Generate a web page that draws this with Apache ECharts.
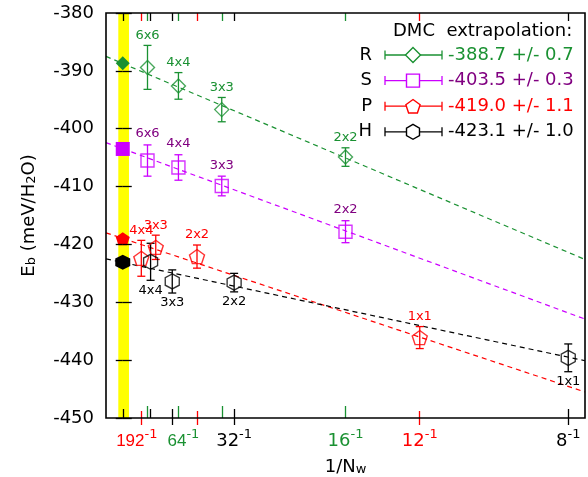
<!DOCTYPE html>
<html>
<head>
<meta charset="utf-8">
<script src="https://cdn.jsdelivr.net/npm/echarts@6/dist/echarts.min.js"></script>
<style>
  html, body { margin: 0; padding: 0; background: #fff; }
  #chart { width: 588px; height: 477px; }
</style>
</head>
<body>
<div id="chart"></div>
<script>
/* DMC binding energy vs 1/N_w with linear extrapolation to the thermodynamic limit */
const FONT = 'DejaVu Sans, Liberation Sans, sans-serif';
const NARROW = 'Liberation Sans Narrow, Liberation Sans, sans-serif';
const GREEN = '#1a9132', VIOLET = '#cc00ff', PURPLE = '#800080', RED = '#ff0000', BLACK = '#000000';

const X_MIN = -0.0047, X_MAX = 0.1297;

// R and S are computed on the same cells
const xRS = [1 / 144, 1 / 64, 1 / 36, 1 / 16];
const labRS = ['6x6', '4x4', '3x3', '2x2'];
const yR = [-389.4, -392.6, -396.7, -404.9];
const eR = [3.8, 2.3, 2.1, 1.6];
const yS = [-405.5, -406.7, -409.9, -417.8];
const eS = [2.7, 2.2, 1.7, 1.9];

const xP = [1 / 192, 1 / 108, 1 / 48, 1 / 12];
const yP = [-422.4, -420.5, -422.1, -436.1];
const eP = [3.1, 2.1, 2.0, 1.9];
const labP = ['4x4', '3x3', '2x2', '1x1'];

const xH = [1 / 128, 1 / 72, 1 / 32, 1 / 8];
const yH = [-423.0, -426.4, -426.6, -439.6];
const eH = [3.2, 2.0, 1.6, 2.4];
const labH = ['4x4', '3x3', '2x2', '1x1'];

// extrapolated values (1/N_w -> 0)
const extrapNames = ['R', 'S', 'P', 'H'];
const extrapVals = [-388.7, -403.5, -419.0, -423.1];
const extrapErrs = [0.7, 0.3, 1.1, 1.0];

// fit lines, end points across the plot
const fitR = [[X_MIN, -387.5], [X_MAX, -422.6]];
const fitS = [[X_MIN, -402.4], [X_MAX, -432.9]];
const fitP = [[X_MIN, -418.0], [X_MAX, -445.5]];
const fitH = [[X_MIN, -422.5], [X_MAX, -440.1]];

const bandX = [-0.00125, 0.00175];

// ticks by colour, and labelled ticks
const ticksGreen = [1 / 144, 1 / 64, 1 / 36, 1 / 16];
const ticksBlack = [0, 1 / 128, 1 / 72, 1 / 32, 1 / 8];
const ticksBlackOut = [1 / 72, 1 / 32, 1 / 8];
const ticksRed = [1 / 192, 1 / 48, 1 / 12];
const labelVals = [1 / 192, 1 / 64, 1 / 32, 1 / 16, 1 / 12, 1 / 8];
const labelBase = ['192', '64', '32', '16', '12', '8'];
const labelKey = ['r', 'g', 'k', 'g', 'r', 'k'];
const labelNarrow = [true, true, false, false, false, false];
const labelPad = [[0, 9, 0, 0], [0, 0, 0, 10], 0, 0, 0, 0];

const PENTAGON = 'path://M50,0 L97.55,34.55 L79.39,90.45 L20.61,90.45 L2.45,34.55 Z';
const HEXAGON = 'path://M50,0 L93.3,25 L93.3,75 L50,100 L6.7,75 L6.7,25 Z';

const chart = echarts.init(document.getElementById('chart'), null, { renderer: 'canvas' });

function tickAxis(pos, vals, color, len, inside) {
  return {
    type: 'value', position: pos, min: X_MIN, max: X_MAX, z: 6,
    axisLine: { show: false }, splitLine: { show: false }, axisLabel: { show: false },
    axisTick: { show: true, inside: inside, length: len, customValues: vals, lineStyle: { color: color, width: 1.3 } }
  };
}

const richTick = {
  r: { color: RED, fontSize: 18, fontFamily: FONT, verticalAlign: 'bottom', lineHeight: 22 },
  g: { color: GREEN, fontSize: 18, fontFamily: FONT, verticalAlign: 'bottom', lineHeight: 22 },
  k: { color: BLACK, fontSize: 18, fontFamily: FONT, verticalAlign: 'bottom', lineHeight: 22 },
  rn: { color: RED, fontSize: 17, fontFamily: NARROW, verticalAlign: 'bottom', lineHeight: 22 },
  gn: { color: GREEN, fontSize: 17, fontFamily: NARROW, verticalAlign: 'bottom', lineHeight: 22 },
  rs: { color: RED, fontSize: 13, fontFamily: FONT, verticalAlign: 'top', lineHeight: 13 },
  gs: { color: GREEN, fontSize: 13, fontFamily: FONT, verticalAlign: 'top', lineHeight: 13 },
  ks: { color: BLACK, fontSize: 13, fontFamily: FONT, verticalAlign: 'top', lineHeight: 13 }
};

// one axis per labelled tick so no label gets dropped for overlapping
function labelAxis(i) {
  const k = labelKey[i];
  return {
    type: 'value', position: 'bottom', min: X_MIN, max: X_MAX, z: 6,
    axisLine: { show: false }, splitLine: { show: false }, axisTick: { show: false },
    axisLabel: {
      show: true, customValues: [labelVals[i]], margin: 10, rich: richTick, hideOverlap: false,
      padding: labelPad[i],
      formatter: () => '{' + k + (labelNarrow[i] ? 'n' : '') + '|' + labelBase[i] + '}{' + k + 's|-1}'
    }
  };
}

function fitLine(data, color) {
  return {
    type: 'line', data: data, symbol: 'none', z: 2, silent: true,
    lineStyle: { color: color, width: 1.2, type: [5, 4] }
  };
}

function errBars(xs, ys, es, labels, color, labColor, below, labGap) {
  return {
    type: 'custom', z: 3, silent: true,
    data: xs.map((x, i) => [x, ys[i], es[i]]),
    renderItem: function (params, api) {
      const x = api.value(0), y = api.value(1), e = api.value(2);
      const top = api.coord([x, y + e]), bot = api.coord([x, y - e]);
      const st = { stroke: color, lineWidth: 1.3 };
      const ty = below ? bot[1] + labGap : top[1] - labGap;
      return {
        type: 'group',
        children: [
          { type: 'line', shape: { x1: top[0], y1: top[1], x2: bot[0], y2: bot[1] }, style: st },
          { type: 'line', shape: { x1: top[0] - 4, y1: top[1], x2: top[0] + 4, y2: top[1] }, style: st },
          { type: 'line', shape: { x1: bot[0] - 4, y1: bot[1], x2: bot[0] + 4, y2: bot[1] }, style: st },
          { type: 'text', style: { text: labels[params.dataIndex], x: top[0], y: ty, fill: labColor,
              font: '13px ' + FONT, align: 'center', verticalAlign: 'middle' } }
        ]
      };
    }
  };
}

function markers(xs, ys, symbol, size, color) {
  return {
    type: 'scatter', z: 4, silent: true, symbol: symbol, symbolSize: size,
    data: xs.map((x, i) => [x, ys[i]]),
    itemStyle: { color: 'rgba(0,0,0,0)', borderColor: color, borderWidth: 1.4 }
  };
}

function filled(y, symbol, size, color) {
  return {
    type: 'scatter', z: 5, silent: true, symbol: symbol, symbolSize: size,
    data: [[0, y]], itemStyle: { color: color, opacity: 1, borderWidth: 0 }
  };
}

// legend drawn as graphics
function polyPts(cx, cy, r, n) {
  const pts = [];
  for (let k = 0; k < n; k++) {
    const a = -Math.PI / 2 + k * 2 * Math.PI / n;
    pts.push([cx + r * Math.cos(a), cy + r * Math.sin(a)]);
  }
  return pts;
}
const legSample = [GREEN, VIOLET, RED, BLACK];
const legText = [GREEN, PURPLE, RED, BLACK];
const legend = [{ type: 'text', left: 393, top: 22, style: { text: 'DMC  extrapolation:', fill: BLACK, font: '18px ' + FONT } }];
extrapNames.forEach((n, i) => {
  const cy = 55 + i * 25.6, c = legSample[i], st = { stroke: c, lineWidth: 1.3 };
  legend.push({ type: 'text', x: 372, y: cy, style: { text: n, fill: BLACK, font: '18px ' + FONT, align: 'right', verticalAlign: 'middle' } });
  legend.push({ type: 'line', shape: { x1: 385, y1: cy, x2: 442, y2: cy }, style: st });
  legend.push({ type: 'line', shape: { x1: 385, y1: cy - 4.5, x2: 385, y2: cy + 4.5 }, style: st });
  legend.push({ type: 'line', shape: { x1: 442, y1: cy - 4.5, x2: 442, y2: cy + 4.5 }, style: st });
  let shape;
  if (i === 1) shape = { type: 'rect', shape: { x: 406.5, y: cy - 6.5, width: 13, height: 13 } };
  else shape = { type: 'polygon', shape: { points: polyPts(413, cy + (i === 2 ? 0.8 : 0), 7.5, [4, 0, 5, 6][i]) } };
  shape.style = { fill: '#fff', stroke: c, lineWidth: 1.4 };
  legend.push(shape);
  legend.push({ type: 'text', x: 448, y: cy, style: {
    text: extrapVals[i].toFixed(1) + ' +/- ' + extrapErrs[i].toFixed(1),
    fill: legText[i], font: '18px ' + FONT, verticalAlign: 'middle' } });
});

const richName = {
  a: { fontSize: 18, fontFamily: FONT, color: BLACK, verticalAlign: 'bottom', lineHeight: 24 },
  s: { fontSize: 13, fontFamily: FONT, color: BLACK, verticalAlign: 'bottom', lineHeight: 11 }
};

chart.setOption({
  animation: false,
  backgroundColor: '#fff',
  textStyle: { fontFamily: FONT },
  grid: {
    left: 106, right: 3, top: 13, bottom: 59, show: true, borderColor: BLACK, borderWidth: 1.6, z: 10,
    backgroundColor: 'rgba(0,0,0,0)', containLabel: false, outerBoundsMode: 'none'
  },
  xAxis: [
    {
      type: 'value', position: 'bottom', min: X_MIN, max: X_MAX, z: 6,
      axisLine: { show: false }, splitLine: { show: false }, axisTick: { show: false }, axisLabel: { show: false },
      name: '{a|1/N}{s|w}', nameLocation: 'middle', nameGap: 34, nameTextStyle: { rich: richName }
    },
    ...labelVals.map((v, i) => labelAxis(i)),
    tickAxis('bottom', ticksGreen, GREEN, 12, true),
    tickAxis('bottom', ticksBlack, BLACK, 9, true),
    tickAxis('bottom', ticksBlackOut, BLACK, 7, false),
    tickAxis('bottom', ticksRed, RED, 7, true),
    tickAxis('bottom', ticksRed, RED, 7, false),
    tickAxis('top', ticksGreen, GREEN, 8, true),
    tickAxis('top', ticksBlack, BLACK, 8, true),
    tickAxis('top', ticksRed, RED, 8, true)
  ],
  yAxis: [
    {
      type: 'value', position: 'left', min: -450, max: -380, interval: 10, z: 6,
      axisLine: { show: false }, splitLine: { show: false },
      axisTick: { show: true, inside: true, length: 9, lineStyle: { color: BLACK, width: 1.3 } },
      axisLabel: { color: BLACK, fontSize: 18, fontFamily: FONT, margin: 12 },
      name: '{a|E}{s|b}{a| (meV/H}{s|2}{a|O)}', nameLocation: 'middle', nameRotate: 90, nameGap: 68,
      nameTextStyle: { rich: richName }
    },
    {
      type: 'value', position: 'right', min: -450, max: -380, interval: 10, z: 6,
      axisLine: { show: false }, splitLine: { show: false }, axisLabel: { show: false },
      axisTick: { show: true, inside: true, length: 7, lineStyle: { color: BLACK, width: 1.3 } }
    }
  ],
  graphic: legend,
  series: [
    {
      type: 'line', data: [], z: 1, silent: true,
      markArea: { silent: true, itemStyle: { color: '#ffff00', opacity: 1 }, data: [[{ xAxis: bandX[0] }, { xAxis: bandX[1] }]] }
    },
    fitLine(fitR, GREEN),
    fitLine(fitS, VIOLET),
    fitLine(fitP, RED),
    fitLine(fitH, BLACK),
    errBars(xRS, yR, eR, labRS, GREEN, GREEN, false, 10),
    errBars(xRS, yS, eS, labRS, VIOLET, PURPLE, false, 11),
    errBars(xP, yP, eP, labP, RED, RED, false, 10),
    errBars(xH, yH, eH, labH, BLACK, BLACK, true, 10),
    markers(xRS, yR, 'diamond', [14, 14], GREEN),
    markers(xRS, yS, 'rect', [13, 13], VIOLET),
    markers(xP, yP, PENTAGON, [15, 14], RED),
    markers(xH, yH, HEXAGON, [14, 15], BLACK),
    filled(extrapVals[0], 'diamond', [14, 14], GREEN),
    filled(extrapVals[1], 'rect', [14, 14], VIOLET),
    filled(extrapVals[2], PENTAGON, [14, 13], RED),
    filled(extrapVals[3], HEXAGON, [15, 15], BLACK)
  ]
});
</script>
</body>
</html>
